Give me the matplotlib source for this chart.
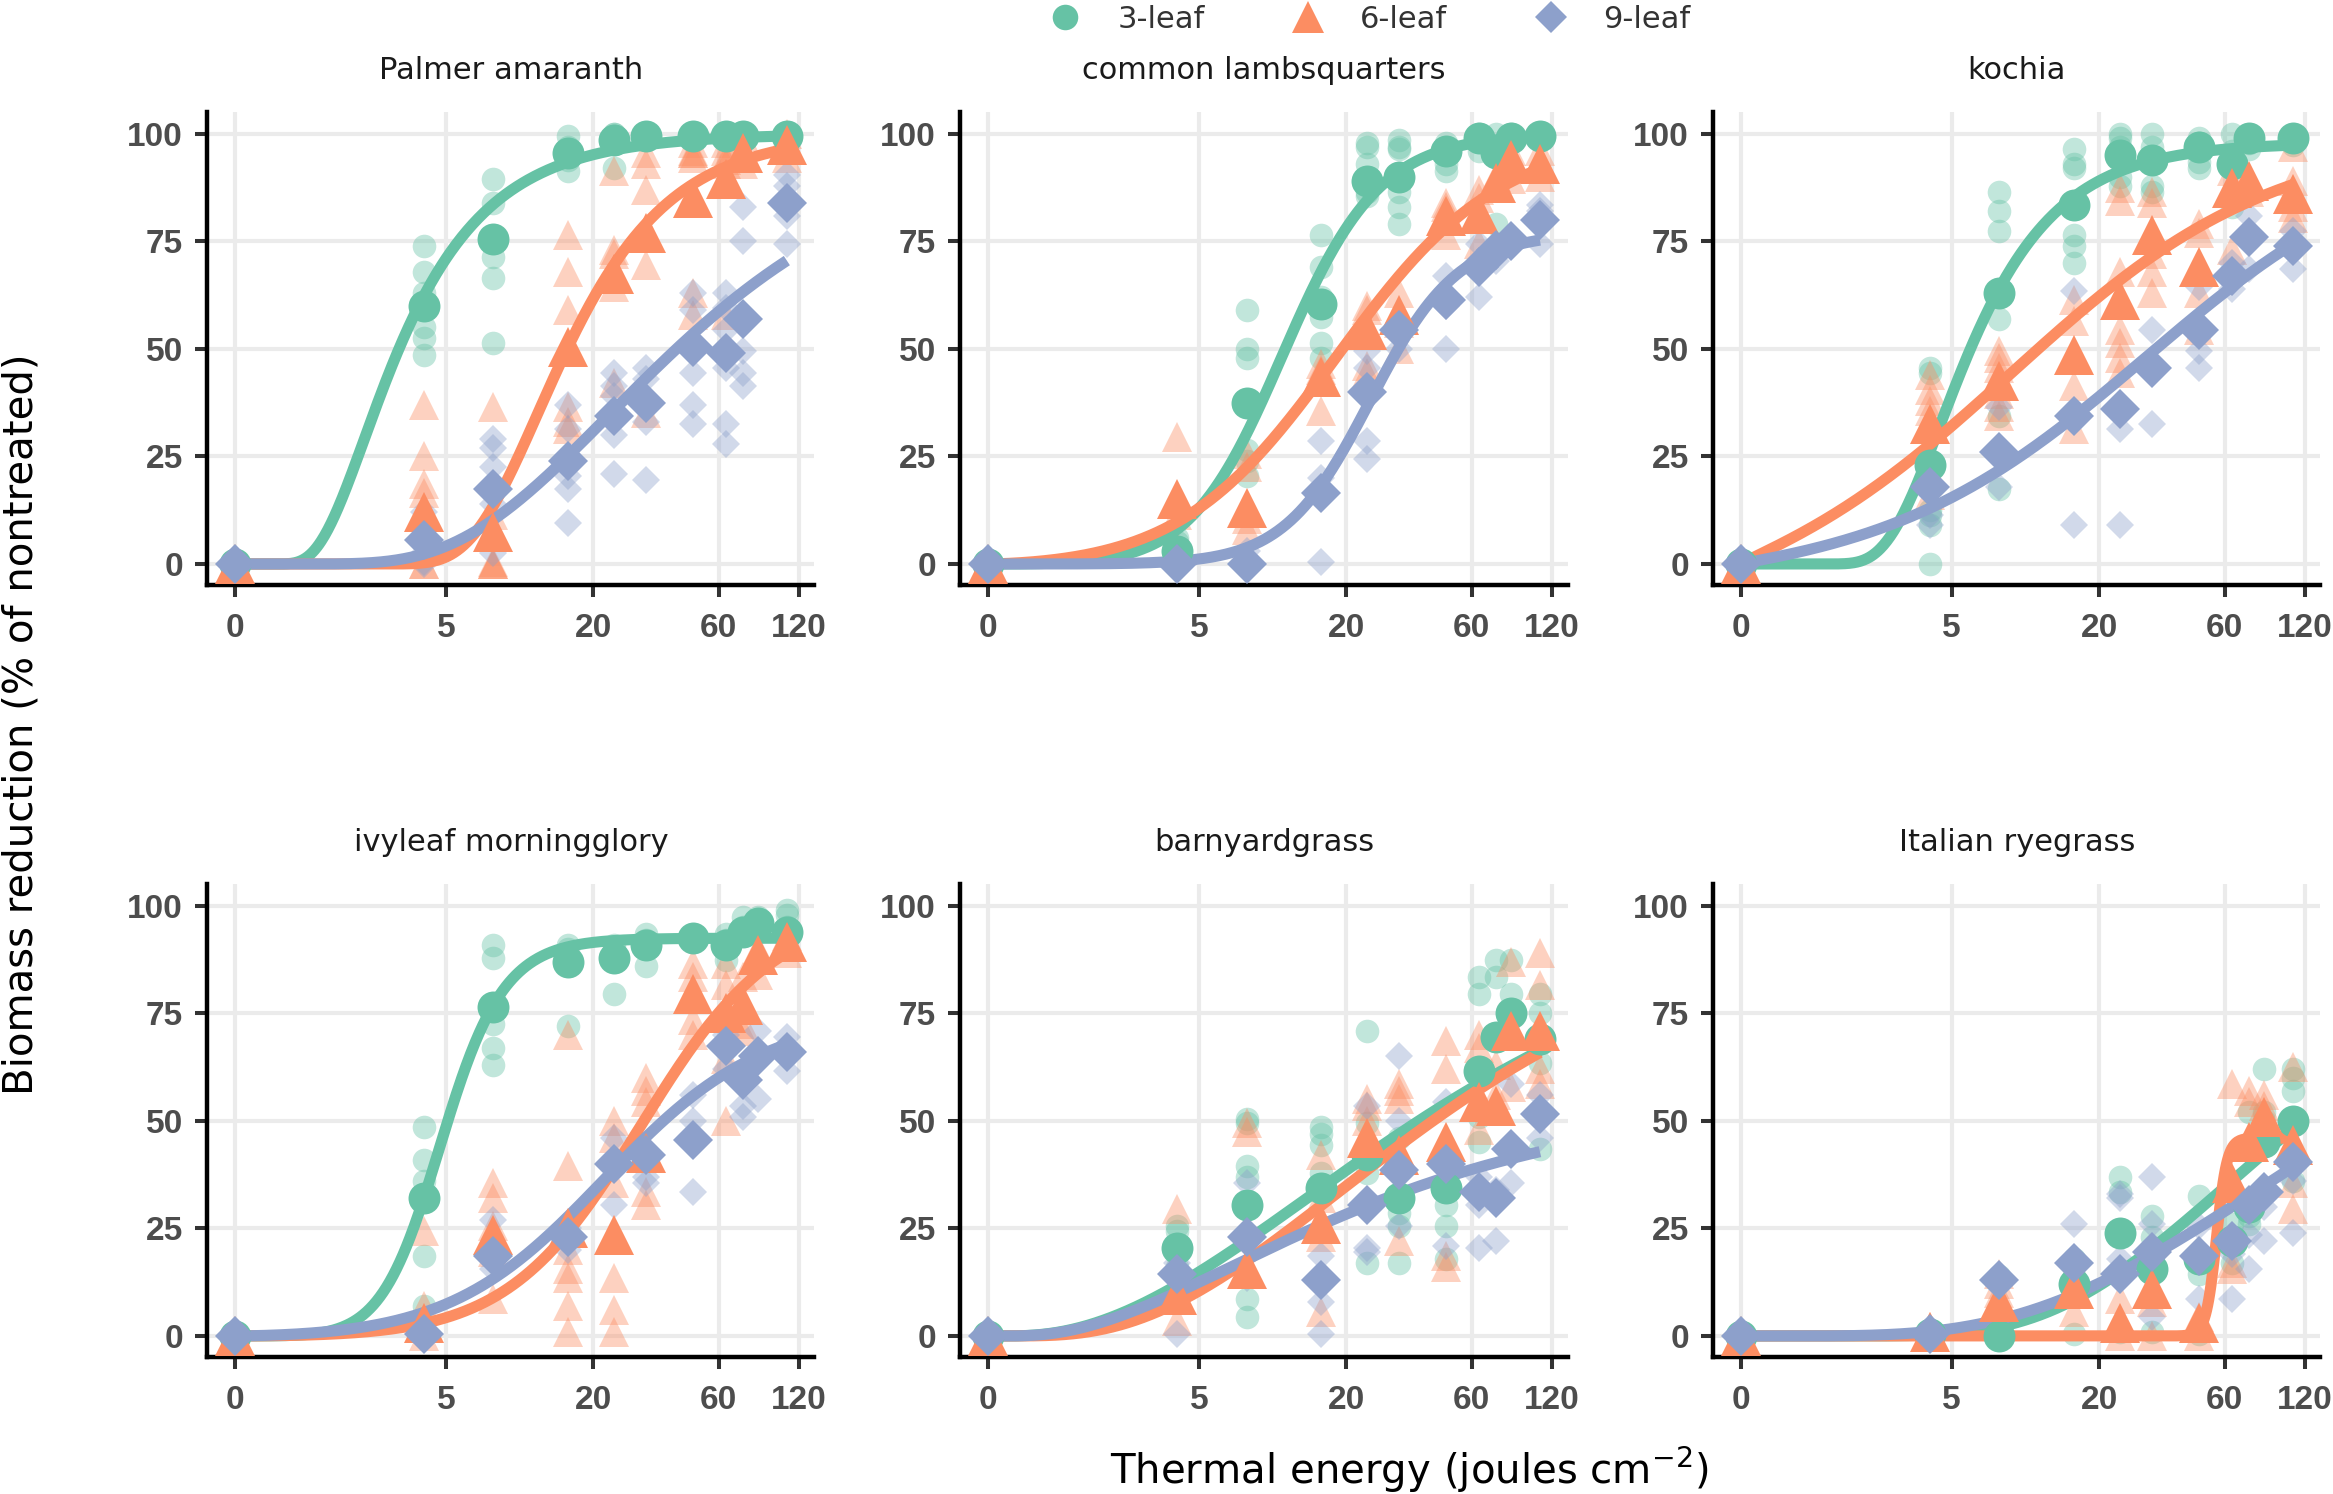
import numpy as np
import matplotlib.pyplot as plt
from matplotlib.lines import Line2D

plt.rcParams['font.family'] = ['DejaVu Sans']

STAGES = ["3-leaf", "6-leaf", "9-leaf"]
COLORS = {"3-leaf": "#66C2A5", "6-leaf": "#FC8D62", "9-leaf": "#8DA0CB"}
MARKERS = {"3-leaf": "o", "6-leaf": "^", "9-leaf": "D"}

X_TICKS = [0, 5, 20, 60, 120]
Y_TICKS = [0, 25, 50, 75, 100]

# ---- Palmer amaranth ----
palmer_x = [0, 4, 8, 16, 24, 32, 48, 64, 74, 108]
palmer_mean = {
    "3-leaf": [0, 60, 75.5, 95.5, 98.5, 99.5, 99.5, 99.5, 99.5, 99.5],
    "6-leaf": [0, 12, 7.5, 50.5, 67.5, 77, 85, 89.5, 95.5, 97.5],
    "9-leaf": [0, 5.5, 17.5, 24, 34.5, 37.5, 50.5, 49, 57, 84],
}
palmer_reps = {
    "3-leaf": [[0, 0, 0, 0], [74, 68, 63, 55, 52.5, 48.5], [89.5, 84, 71.5, 66.5, 51.5, 75],
               [99.5, 97, 95, 91.5, 94], [100, 99.5, 98, 92, 100], [100, 99.5, 99, 100],
               [100, 99.5, 99, 100], [100, 99, 99.5, 100], [100, 99.5, 99], [100, 99.5, 99]],
    "6-leaf": [[0, 0, 0, 0], [37, 25, 18.5, 16.5, 0, 0], [36.5, 11.5, 0.5, 0, 0, 0],
               [76.5, 68, 59, 36.5, 31.5, 33], [91.5, 73, 72, 64.5, 42], [95.5, 93, 87, 69.5, 35],
               [95.5, 94.5, 63, 58, 95.5, 96, 98], [94.5, 93, 58, 94, 96, 98], [93, 94.5, 99.5, 96],
               [94.5, 100, 97, 98]],
    "9-leaf": [[0, 0, 0], [8, 2.5, 0.5, 0, 12], [29, 27, 22.5, 14, 2.5], [37, 31.5, 20.5, 17.5, 9.5],
               [44.5, 41.5, 39, 30, 21], [45.5, 43, 33, 19.5], [63, 59, 44.5, 37, 32.5],
               [63, 59.5, 54.5, 45.5, 32.5, 28], [83, 75, 49.5, 44.5, 41.5], [90.5, 88, 81, 74.5]],
}
palmer_fit = {"3-leaf": ("W1", -1.4, 100, 2.33), "6-leaf": ("W1", -1.55, 100, 12.5),
              "9-leaf": ("W1", -0.72, 100, 25)}

# ---- common lambsquarters ----
lambs_x = [0, 4, 8, 16, 24, 32, 48, 64, 74, 84, 108]
lambs_mean = {
    "3-leaf": [0, 3, 37.5, 60.5, 89, 90, 96, 99, 95.5, 99, 99.5],
    "6-leaf": [0, 15, 13, 43.5, 54.5, 58, 81, 81.5, 88.5, 94, 93],
    "9-leaf": [0, 0, 0, 16.5, 40, 54.5, 61.5, 69, 73, 75, 80],
}
lambs_reps = {
    "3-leaf": [[0, 0, 0], [0, 2, 5, 3, 6], [59, 50, 48, 26.5, 24, 20.5], [76.5, 69, 57.5, 51.5, 48, 62],
               [97, 93, 86.5, 85.5, 98], [98.5, 97, 96.5, 86.5, 83, 79], [98, 93, 91.5, 96],
               [100, 96, 99], [100, 79, 97], [100, 98.5], [100, 99.5]],
    "6-leaf": [[0, 0, 0], [29.5, 11.5, 4, 14], [25.5, 22.5, 10.5, 8], [46.5, 35.5, 45],
               [59, 44.5, 46, 60], [63, 50, 56], [83, 76.5, 84], [87, 74.5, 85], [90, 89],
               [89.5, 96], [90, 96]],
    "9-leaf": [[0, 0, 0], [0, 0.5], [3, 0], [28.5, 0.5, 20], [49.5, 28.5, 24.5, 45.5], [56, 50],
               [67, 50, 60], [74.5, 62, 70], [70.5, 72], [74, 76], [83.5, 74.5, 82]],
}
lambs_fit = {"3-leaf": ("LL", -2.3, 100, 11.5), "6-leaf": ("LL", -1.41, 100, 19.3),
             "9-leaf": ("LL", -2.6, 77, 25)}

# ---- kochia ----
kochia_x = [0, 4, 8, 16, 24, 32, 48, 64, 74, 108]
kochia_mean = {
    "3-leaf": [0, 23, 63, 83.5, 95, 94, 97, 93, 99, 99],
    "6-leaf": [0, 32.5, 42.5, 48.5, 61.5, 76.5, 69, 87.5, 89, 86],
    "9-leaf": [0, 18, 26, 34.5, 36, 45.5, 54.5, 67, 76, 74],
}
kochia_reps = {
    "3-leaf": [[0, 0, 0], [45.5, 44.5, 12.5, 11.5, 9, 0], [86.5, 82, 77.5, 57, 17.5, 34.5],
               [96.5, 93, 92, 76.5, 74, 70], [100, 99, 90, 97, 88], [100, 88, 86.5, 97],
               [99, 93.5, 92, 98], [100, 83, 96], [96.5, 98], [99, 97.5]],
    "6-leaf": [[0, 0, 0], [44, 40.5, 38, 35.5, 16], [49.5, 48, 45.5, 39.5, 36.5, 34.5],
               [61.5, 56.5, 41.5, 31.5], [87.5, 84.5, 68, 54.5, 51.5, 48, 44.5], [86.5, 84, 72, 68, 63],
               [79, 77, 63, 54.5], [91.5, 73], [86.5], [97, 89, 83, 80.5]],
    "9-leaf": [[0, 0], [11.5, 9], [36.5, 18], [63.5, 9], [31.5, 9], [54.5, 32.5], [64.5, 49.5, 45.5],
               [64, 70], [81, 68.5], [77.5, 68.5]],
}
kochia_fit = {"3-leaf": ("W1", -1.63, 98, 4.73), "6-leaf": ("LL", -0.9, 100, 11.5),
              "9-leaf": ("LL", -0.9, 100, 33)}

# ---- ivyleaf morningglory ----
ivy_x = [0, 4, 8, 16, 24, 32, 48, 64, 74, 84, 108]
ivy_mean = {
    "3-leaf": [0, 32, 76.5, 87, 88, 91, 92.5, 91, 94, 96, 94],
    "6-leaf": [0, 3, 23.5, 25, 23.5, 42.5, 79.5, 75, 77, 88.5, 91.5],
    "9-leaf": [0, 0.5, 18.5, 23, 40, 42, 45.5, 67.5, 59.5, 65, 66],
}
ivy_reps = {
    "3-leaf": [[0, 0, 0], [48.5, 41, 36, 18.5, 7], [91, 88, 72.5, 67, 63], [91, 90, 72], [91, 79.5, 90],
               [93.5, 86, 92], [92, 93], [93.5, 87.5, 92], [97.5, 95], [97.5, 96], [99, 98, 95]],
    "6-leaf": [[0, 0, 0], [24.5, 7, 0], [35.5, 32, 25.5, 8.5, 19.5], [70, 39.5, 15.5, 13.5, 7, 1, 20],
               [50, 46, 35.5, 13.5, 6, 1], [60, 57, 54.5, 33.5, 30.5], [86.5, 83.5, 73.5, 70],
               [86.5, 81.5, 64.5, 50], [83.5, 72.5, 71], [84, 90], [89, 93]],
    "9-leaf": [[0, 0], [1, 0], [27, 15.5], [20, 25], [46, 30.5], [35.5, 37], [56, 33.5, 50], [62, 70],
               [53.5, 51], [71, 55], [69.5, 61.5]],
}
ivy_fit = {"3-leaf": ("LL", -3.2, 92.5, 4.85), "6-leaf": ("LL", -1.7, 100, 31.3),
           "9-leaf": ("LL", -1.45, 75, 23)}

# ---- barnyardgrass ----
barn_x = [0, 4, 8, 16, 24, 32, 48, 64, 74, 84, 108]
barn_mean = {
    "3-leaf": [0, 20.5, 30.5, 34.5, 42, 32, 34.5, 61.5, 69.5, 75, 69],
    "6-leaf": [0, 9.5, 15.5, 26, 46, 42, 45, 54.5, 53.5, 71, 71],
    "9-leaf": [0, 14.5, 23, 13, 30.5, 38.5, 40, 33.5, 32, 43.5, 51.5],
}
barn_reps = {
    "3-leaf": [[0, 0, 0], [25.5, 24.5, 8, 16], [50.5, 49.5, 39.5, 37, 8.5, 4.5], [48.5, 47, 44.5, 38],
               [71, 49.5, 17, 38], [25.5, 17, 28.5, 46], [30.5, 25.5, 18, 40], [83.5, 79.5, 51, 45],
               [87.5, 83.5], [87.5, 79.5], [79.5, 75, 63.5, 43.5]],
    "6-leaf": [[0, 0, 0], [29.5, 3.5, 12], [49.5, 47.5, 15], [42, 5.5, 23, 32], [55, 53.5, 50],
               [58.5, 57, 55, 22], [68.5, 62, 18.5, 16], [70, 67, 48], [63, 56], [87, 58],
               [89, 81.5, 58.5, 62]],
    "9-leaf": [[0, 0], [0.5, 17], [35.5, 13.5], [0.5, 18.5, 8], [20.5, 19.5, 53.5], [65, 50, 25.5],
               [54.5, 21], [30.5, 20.5, 37], [22, 34], [58.5, 35.5], [56, 46]],
}
barn_fit = {"3-leaf": ("W1", -0.5, 100, 18.2), "6-leaf": ("W1", -0.55, 100, 22),
            "9-leaf": ("W1", -0.58, 55, 9.86)}

# ---- Italian ryegrass ----
rye_x = [0, 4, 8, 16, 24, 32, 48, 64, 74, 84, 108]
rye_mean = {
    "3-leaf": [0, 0.5, 0, 12, 24, 15.5, 18, 22, 30, 45, 50],
    "6-leaf": [0, 1, 8, 11, 3, 11, 3, 35.5, 45, 51, 44.5],
    "9-leaf": [0, 0.5, 13, 17, 14.5, 19.5, 18.5, 22, 30.5, 33.5, 40.5],
}
rye_reps = {
    "3-leaf": [[0, 0, 0], [0, 1], [14, 0], [18, 0.5, 14], [37, 33.5, 1], [28, 1, 23], [32.5, 14.5, 0.5],
               [17, 26], [28, 26, 52], [62, 52, 50], [62, 57, 36, 60]],
    "6-leaf": [[0, 0, 0], [0, 2], [14.5, 12, 10], [5.5, 10], [8.5, 0], [0, 8], [4.5, 0],
               [58.5, 17, 15.5], [57, 54.5], [56, 53.5], [62.5, 35.5, 29.5]],
    "9-leaf": [[0, 0], [0], [14], [26], [33, 32, 18], [37, 26, 4.5], [25.5, 8.5], [8.5, 19],
               [23.5, 15.5], [22, 30], [24, 36]],
}
rye_fit = {"3-leaf": ("W1", -0.64, 100, 66), "6-leaf": ("LL", -22, 46, 56),
           "9-leaf": ("W1", -0.48, 100, 93.8)}

PANELS = [
    ("Palmer amaranth", palmer_x, palmer_mean, palmer_reps, palmer_fit),
    ("common lambsquarters", lambs_x, lambs_mean, lambs_reps, lambs_fit),
    ("kochia", kochia_x, kochia_mean, kochia_reps, kochia_fit),
    ("ivyleaf morningglory", ivy_x, ivy_mean, ivy_reps, ivy_fit),
    ("barnyardgrass", barn_x, barn_mean, barn_reps, barn_fit),
    ("Italian ryegrass", rye_x, rye_mean, rye_reps, rye_fit),
]


def dose_response(x, model, b, d, e):
    # fitted curves: log-logistic (LL) or Weibull type 1 (W1), lower limit 0
    with np.errstate(divide="ignore", over="ignore"):
        z = b * (np.log(x) - np.log(e))
        if model == "LL":
            return d / (1 + np.exp(z))
        return d * np.exp(-np.exp(z))


SMALL_MS = {"3-leaf": 17, "6-leaf": 21, "9-leaf": 14}
BIG_MS = {"3-leaf": 23, "6-leaf": 29, "9-leaf": 20}

fig = plt.figure(figsize=(23.33, 14.94), dpi=100)
lefts = [0.0889, 0.4117, 0.7344]
bottoms = [0.6081, 0.0914]
pw, ph = 0.2602, 0.3166

xmax = 108
pad_lo = np.expm1(-0.05 * np.log1p(xmax))
pad_hi = np.expm1(1.05 * np.log1p(xmax))

for k, (title, xs, means, reps, fits) in enumerate(PANELS):
    ax = fig.add_axes([lefts[k % 3], bottoms[k // 3], pw, ph])
    ax.set_xscale("function", functions=(np.log1p, np.expm1))
    ax.set_xlim(pad_lo, pad_hi)
    ax.set_ylim(-5, 105)

    # replicate points
    for st in STAGES:
        px, py = [], []
        for xv, ys in zip(xs, reps[st]):
            px += [xv] * len(ys)
            py += ys
        ax.plot(px, py, linestyle="none", marker=MARKERS[st], ms=SMALL_MS[st],
                color=COLORS[st], alpha=0.4, markeredgewidth=0, zorder=2)

    # fitted curves
    xc = np.expm1(np.linspace(0, np.log1p(xmax), 500))
    for st in STAGES:
        ax.plot(xc, dose_response(xc, *fits[st]), color=COLORS[st], lw=8,
                solid_capstyle="butt", zorder=3)

    # means
    for st in STAGES:
        ax.plot(xs, means[st], linestyle="none", marker=MARKERS[st], ms=BIG_MS[st],
                color=COLORS[st], markeredgewidth=0, zorder=4)

    ax.set_xticks(X_TICKS)
    ax.set_xticklabels([str(t) for t in X_TICKS])
    ax.set_yticks(Y_TICKS)
    ax.minorticks_off()
    ax.grid(True, color="#EBEBEB", lw=3, zorder=0)
    ax.set_axisbelow(True)
    for s in ["top", "right"]:
        ax.spines[s].set_visible(False)
    for s in ["left", "bottom"]:
        ax.spines[s].set_linewidth(3.2)
        ax.spines[s].set_color("black")
    ax.tick_params(axis="both", length=8.6, width=2.9, color="#333333",
                   labelcolor="#4D4D4D", labelsize=24)
    ax.tick_params(axis="x", pad=11)
    ax.tick_params(axis="y", pad=9)
    for lab in ax.get_xticklabels() + ax.get_yticklabels():
        lab.set_fontfamily("Liberation Sans")
        lab.set_fontweight("bold")
    ax.text(0.5, 1.088, title, transform=ax.transAxes, ha="center", va="center",
            fontsize=22, color="#1A1A1A")

handles = [Line2D([], [], linestyle="none", marker=MARKERS[st], color=COLORS[st],
                  ms=BIG_MS[st] * 0.8, markeredgewidth=0) for st in STAGES]
fig.legend(handles, STAGES, loc="center", bbox_to_anchor=(0.584, 0.987), ncol=3,
           frameon=False, fontsize=22, handletextpad=0.7, columnspacing=2.4,
           labelcolor="#333333")

fig.text(0.604, 0.016, "Thermal energy (joules cm$^{-2}$)", ha="center", va="center",
         fontsize=29)
fig.text(0.0094, 0.515, "Biomass reduction (% of nontreated)", rotation=90,
         ha="center", va="center", fontsize=29)

fig.savefig("out.png", dpi=100)
